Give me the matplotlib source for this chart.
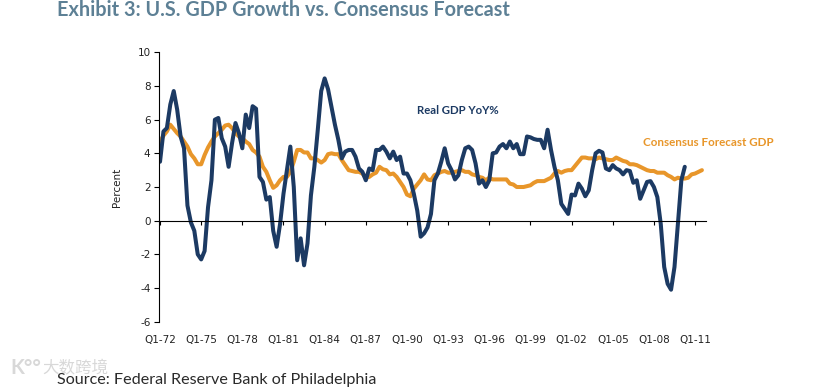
import numpy as np
import matplotlib
matplotlib.use("Agg")
import matplotlib.pyplot as plt

plt.rcParams["axes.unicode_minus"] = False

W, H = 820, 392
NAVY = "#1c3a63"
ORANGE = "#e8962a"

# quarterly, starting Q1-72
real_gdp = [
    3.5, 5.3, 5.5, 6.9, 7.7, 6.6, 5.0, 4.3, 0.9, -0.1, -0.6, -2.0, -2.3, -1.8, 0.8, 2.4,
    6.0, 6.1, 4.9, 4.4, 3.2, 4.6, 5.8, 5.2, 4.3, 6.3, 5.5, 6.8, 6.65, 2.6, 2.3, 1.25,
    1.4, -0.6, -1.55, -0.2, 1.6, 3.0, 4.4, 2.0, -2.35, -1.05, -2.65, -1.35, 1.5, 3.2, 5.4, 7.7,
    8.45, 7.8, 6.75, 5.7, 4.8, 3.7, 4.1, 4.2, 4.2, 3.8, 3.1, 2.9, 2.4, 3.1, 3.0, 4.2,
    4.2, 4.4, 4.1, 3.7, 4.1, 3.6, 3.8, 2.8, 2.8, 2.4, 1.6, 0.6, -0.95, -0.75, -0.4, 0.4,
    2.4, 2.8, 3.5, 4.3, 3.4, 3.0, 2.45, 2.7, 3.6, 4.3, 4.4, 4.2, 3.4, 2.2, 2.4, 2.0,
    2.4, 4.0, 4.05, 4.4, 4.55, 4.3, 4.7, 4.3, 4.55, 3.95, 3.95, 5.0, 4.95, 4.85, 4.8, 4.8,
    4.3, 5.4, 4.2, 3.2, 2.4, 1.0, 0.7, 0.4, 1.55, 1.5, 2.2, 1.9, 1.45, 1.8, 3.0, 4.0,
    4.15, 4.05, 3.1, 3.0, 3.3, 3.1, 3.0, 2.75, 3.0, 2.95, 2.25, 2.4, 1.3, 1.8, 2.3, 2.35,
    2.0, 1.4, -0.2, -2.75, -3.75, -4.1, -2.75, -0.2, 2.4, 3.2,
]
consensus = [
    4.7, 5.05, 5.3, 5.7, 5.45, 5.2, 5.0, 4.7, 4.4, 3.95, 3.7, 3.35, 3.35, 3.9, 4.35, 4.7,
    5.0, 5.2, 5.4, 5.65, 5.7, 5.5, 5.2, 5.0, 4.9, 4.7, 4.55, 4.2, 4.05, 3.8, 3.2, 2.9,
    2.4, 1.95, 2.1, 2.4, 2.6, 2.6, 2.9, 3.5, 4.2, 4.2, 4.05, 4.05, 3.7, 3.7, 3.6, 3.45,
    3.6, 3.95, 4.0, 3.95, 3.95, 3.6, 3.3, 3.0, 2.95, 2.9, 2.9, 2.8, 2.55, 2.6, 2.75, 2.85,
    3.2, 3.05, 3.0, 2.75, 2.8, 2.6, 2.3, 2.0, 1.55, 1.45, 1.9, 2.15, 2.4, 2.75, 2.45, 2.4,
    2.7, 2.8, 2.9, 2.95, 2.85, 2.85, 2.9, 2.95, 3.0, 2.9, 2.9, 2.75, 2.7, 2.6, 2.55, 2.4,
    2.55, 2.45, 2.45, 2.45, 2.45, 2.45, 2.2, 2.15, 2.0, 2.0, 2.0, 2.05, 2.1, 2.25, 2.35, 2.35,
    2.35, 2.45, 2.55, 2.8, 2.95, 2.85, 2.95, 3.0, 3.0, 3.25, 3.5, 3.75, 3.75, 3.7, 3.7, 3.65,
    3.75, 3.7, 3.65, 3.6, 3.6, 3.75, 3.65, 3.55, 3.5, 3.35, 3.35, 3.3, 3.2, 3.1, 3.0, 2.95,
    2.95, 2.85, 2.85, 2.85, 2.7, 2.6, 2.45, 2.55, 2.5, 2.5, 2.55, 2.75, 2.8, 2.9, 3.0,
]
tick_labels = ["Q1-72", "Q1-75", "Q1-78", "Q1-81", "Q1-84", "Q1-87", "Q1-90",
               "Q1-93", "Q1-96", "Q1-99", "Q1-02", "Q1-05", "Q1-08", "Q1-11"]
y_ticks = [-6, -4, -2, 0, 2, 4, 6, 8, 10]

fig = plt.figure(figsize=(W / 100, H / 100), dpi=100, facecolor="white")
ax = fig.add_axes([159.5 / W, 1 - 321.7 / H, (705.7 - 159.5) / W, (321.7 - 52.3) / H])

ax.plot(np.arange(len(consensus)), consensus, c=ORANGE, lw=2.9, solid_capstyle="round")
ax.plot(np.arange(len(real_gdp)), real_gdp, c=NAVY, lw=2.9, solid_capstyle="round")

ax.set_xlim(-0.15, 159.1)
ax.set_ylim(-6, 10)
ax.set_yticks(y_ticks)
ax.set_xticks(np.arange(len(tick_labels)) * 12)
ax.spines[["top", "right"]].set_visible(False)
ax.spines["bottom"].set_position(("data", 0))
ax.spines["bottom"].set_linewidth(0.8)
ax.spines["left"].set_linewidth(0.8)
ax.tick_params(axis="y", direction="out", length=3.5, width=0.8, labelsize=7.5, pad=3, labelcolor="#222222")
ax.tick_params(axis="x", direction="out", length=3, width=0.8, labelbottom=False)
# labels sit at the bottom of the plot, ticks stay on the zero line
for i, lab in enumerate(tick_labels):
    ax.annotate(lab, (i * 12, -6), xytext=(0, -13), textcoords="offset points",
                ha="center", va="center", fontsize=7.5, color="#222222", annotation_clip=False)
ax.set_ylabel("Percent", fontsize=7.5, color="#222222", labelpad=11)

fig.text(57 / W, 1 - 9.5 / H, "Exhibit 3: U.S. GDP Growth vs. Consensus Forecast",
         family="Lato", weight="bold", fontsize=14.35, color="#5d8095", va="center")
fig.text(417 / W, 1 - 111 / H, "Real GDP YoY%", family="Lato", weight="bold",
         fontsize=8.2, color=NAVY, va="center")
fig.text(643 / W, 1 - 142 / H, "Consensus Forecast GDP", family="Lato", weight="bold",
         fontsize=8.4, color=ORANGE, va="center")
fig.text(42 / W, 1 - 368 / H, "大数跨境", family="Noto Sans CJK SC", fontsize=11.9,
         color="#d8d8d8", va="center")
fig.text(10 / W, 1 - 368 / H, "K°°", family="Lato", weight="bold", fontsize=14.5,
         color="#d8d8d8", va="center")
fig.text(57 / W, 1 - 380 / H, "Source: Federal Reserve Bank of Philadelphia",
         family="Lato", fontsize=11.6, color="#2a2a2a", va="center")

fig.savefig("out.png", dpi=100)
